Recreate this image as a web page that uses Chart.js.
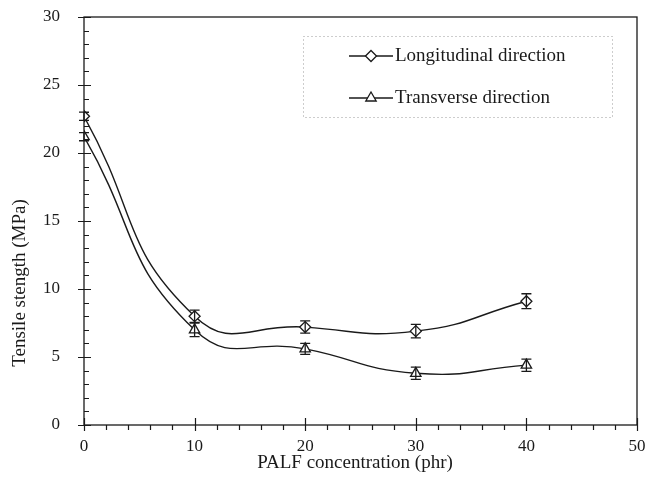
<!DOCTYPE html>
<html>
<head>
<meta charset="utf-8">
<script src="https://cdn.jsdelivr.net/npm/chart.js@4/dist/chart.umd.min.js"></script>
<style>
  html, body { margin: 0; padding: 0; background: #fff; }
  #wrap { width: 648px; height: 482px; }
</style>
</head>
<body>
<div id="wrap"><canvas id="c" width="648" height="482"></canvas></div>
<script>
// PALF loading (phr) and tensile strength (MPa) with error half-widths
const concentration = [0, 10, 20, 30, 40];
const longitudinal = [22.7, 8.0, 7.2, 6.9, 9.1];
const longitudinalErr = [0.3, 0.45, 0.45, 0.5, 0.55];
const transverse = [21.2, 7.0, 5.6, 3.8, 4.4];
const transverseErr = [0.3, 0.5, 0.4, 0.45, 0.45];
const seriesNames = ['Longitudinal direction', 'Transverse direction'];
const xTitle = 'PALF concentration (phr)';
const yTitle = 'Tensile stength (MPa)';
const xTickStep = 10, xMinorStep = 2;
const yTickStep = 5, yMinorStep = 1;

const INK = '#1a1a1a';
const FONT = '"Liberation Serif", "Times New Roman", serif';

const toPoints = (xs, ys) => xs.map((x, i) => ({ x: x, y: ys[i] }));

// frame, crossing major ticks, short minor ticks and the axis titles
const axisFrame = {
  id: 'axisFrame',
  afterDraw(chart) {
    const { ctx, chartArea: a, scales: { x, y } } = chart;
    ctx.save();
    ctx.strokeStyle = INK;
    ctx.lineWidth = 1.3;
    ctx.strokeRect(a.left, a.top, a.right - a.left, a.bottom - a.top);
    ctx.lineWidth = 1.2;
    ctx.beginPath();
    for (let v = y.min; v <= y.max + 1e-9; v += yMinorStep) {
      const py = Math.round(y.getPixelForValue(v)) + 0.5;
      if (Math.abs(v / yTickStep - Math.round(v / yTickStep)) < 1e-9) {
        ctx.moveTo(a.left - 6, py); ctx.lineTo(a.left + 7, py);
      } else {
        ctx.moveTo(a.left, py); ctx.lineTo(a.left + 5, py);
      }
    }
    for (let v = x.min; v <= x.max + 1e-9; v += xMinorStep) {
      const px = Math.round(x.getPixelForValue(v)) + 0.5;
      if (Math.abs(v / xTickStep - Math.round(v / xTickStep)) < 1e-9) {
        ctx.moveTo(px, a.bottom - 7); ctx.lineTo(px, a.bottom + 6);
      } else {
        ctx.moveTo(px, a.bottom); ctx.lineTo(px, a.bottom + 5);
      }
    }
    ctx.stroke();

    ctx.fillStyle = INK;
    ctx.font = '19px ' + FONT;
    ctx.textAlign = 'center';
    ctx.textBaseline = 'middle';
    // x-axis title
    ctx.fillText(xTitle, 355, 463);
    // rotated y-axis title, set a little below the plot's mid-height
    ctx.save();
    ctx.translate(20, 283);
    ctx.rotate(-Math.PI / 2);
    ctx.fillText(yTitle, 0, 0);
    ctx.restore();
    ctx.restore();
  }
};

// vertical error bars with caps
const errorBars = {
  id: 'errorBars',
  afterDatasetsDraw(chart) {
    const { ctx, scales: { x, y } } = chart;
    ctx.save();
    ctx.strokeStyle = INK;
    ctx.lineWidth = 1.3;
    chart.data.datasets.forEach((ds) => {
      ds.data.forEach((p, i) => {
        const e = ds.errors[i];
        const px = x.getPixelForValue(p.x);
        const top = y.getPixelForValue(p.y + e);
        const bot = y.getPixelForValue(p.y - e);
        ctx.beginPath();
        ctx.moveTo(px, top); ctx.lineTo(px, bot);
        ctx.moveTo(px - 5, top); ctx.lineTo(px + 5, top);
        ctx.moveTo(px - 5, bot); ctx.lineTo(px + 5, bot);
        ctx.stroke();
      });
    });
    ctx.restore();
  }
};

// boxed legend with line-and-marker samples
const boxLegend = {
  id: 'boxLegend',
  afterDraw(chart) {
    const { ctx } = chart;
    const box = { left: 303, top: 36, right: 612, bottom: 117 };
    ctx.save();
    ctx.strokeStyle = '#9a9a9a';
    ctx.lineWidth = 1;
    ctx.setLineDash([1, 3]);
    ctx.strokeRect(box.left + 0.5, box.top + 0.5, box.right - box.left, box.bottom - box.top);
    ctx.setLineDash([]);
    chart.data.datasets.forEach((ds, i) => {
      const cy = 56 + i * 42;
      ctx.strokeStyle = INK;
      ctx.lineWidth = 1.3;
      ctx.beginPath();
      ctx.moveTo(349, cy); ctx.lineTo(393, cy);
      ctx.stroke();
      ctx.fillStyle = '#fff';
      Chart.helpers.drawPoint(ctx, {
        pointStyle: ds.pointStyle, radius: ds.pointRadius, borderWidth: 1.3
      }, 371, cy);
      ctx.fillStyle = INK;
      ctx.font = '19px ' + FONT;
      ctx.textBaseline = 'middle';
      ctx.textAlign = 'left';
      ctx.fillText(ds.label, 395, cy);
    });
    ctx.restore();
  }
};

const lineStyle = {
  borderColor: INK,
  borderWidth: 1.4,
  backgroundColor: '#fff',
  pointBackgroundColor: '#fff',
  pointBorderColor: INK,
  pointBorderWidth: 1.3,
  fill: false,
  tension: 0.5
};

new Chart(document.getElementById('c'), {
  type: 'line',
  data: {
    datasets: [
      Object.assign({}, lineStyle, {
        label: seriesNames[0],
        data: toPoints(concentration, longitudinal),
        errors: longitudinalErr,
        pointStyle: 'rectRot',
        pointRadius: 5.5
      }),
      Object.assign({}, lineStyle, {
        label: seriesNames[1],
        data: toPoints(concentration, transverse),
        errors: transverseErr,
        pointStyle: 'triangle',
        pointRadius: 6
      })
    ]
  },
  options: {
    responsive: false,
    animation: false,
    layout: { padding: { top: 17, right: 11, left: 0, bottom: 0 } },
    plugins: { legend: { display: false }, tooltip: { enabled: false } },
    scales: {
      x: {
        type: 'linear',
        min: 0, max: 50,
        grid: { display: false, drawTicks: false },
        border: { display: false },
        ticks: { stepSize: xTickStep, padding: 11, color: INK, font: { family: FONT, size: 17 } },
        title: { display: false },
        afterFit(scale) {
          scale.height = 57;
          scale.paddingLeft = 0; scale.paddingRight = 0;
        }
      },
      y: {
        min: 0, max: 30,
        grid: { display: false, drawTicks: false },
        border: { display: false },
        ticks: { stepSize: yTickStep, padding: 24, color: INK, font: { family: FONT, size: 17 } },
        title: { display: false },
        afterFit(scale) {
          scale.width = 84;
          scale.paddingTop = 0; scale.paddingBottom = 0;
        }
      }
    }
  },
  plugins: [axisFrame, errorBars, boxLegend]
});
</script>
</body>
</html>
